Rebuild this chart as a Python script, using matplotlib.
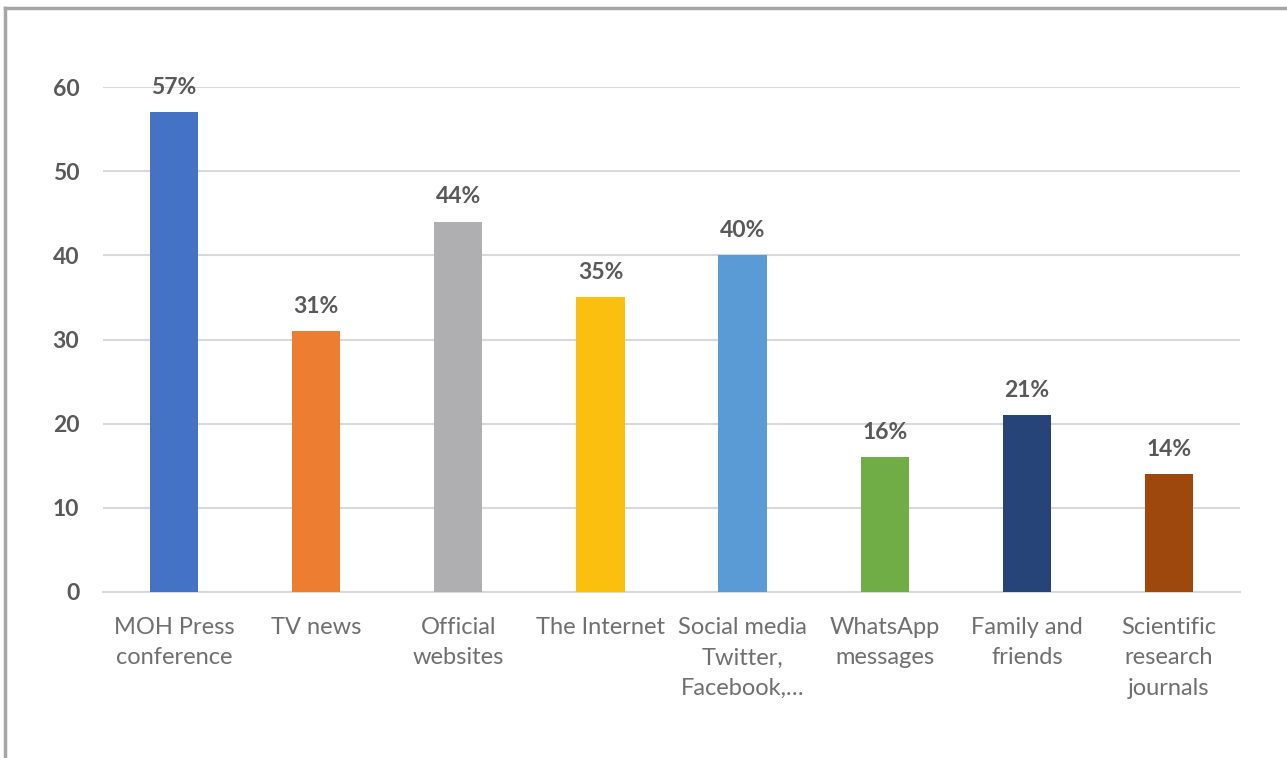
import matplotlib.pyplot as plt
from matplotlib.lines import Line2D

# data
categories = ["MOH Press\nconference", "TV news", "Official\nwebsites", "The Internet",
              "Social media\nTwitter,\nFacebook,…", "WhatsApp\nmessages", "Family and\nfriends",
              "Scientific\nresearch\njournals"]
values = [57, 31, 44, 35, 40, 16, 21, 14]
labels = ["57%", "31%", "44%", "35%", "40%", "16%", "21%", "14%"]
colors = ["#4472C4", "#ED7D31", "#AFAFB1", "#FBBF10", "#5B9BD5", "#70AD47", "#264478", "#9E480E"]
yticks = [0, 10, 20, 30, 40, 50, 60]

plt.rcParams['font.family'] = ['Lato', 'DejaVu Sans']

fig = plt.figure(figsize=(12.87, 7.58), dpi=100)
ax = fig.add_axes([103 / 1287, 1 - 592 / 758, (1240 - 103) / 1287, (592 - 87) / 758])

x = range(len(categories))
ax.bar(x, values, width=0.34, color=colors, zorder=3)
for i, (v, lab) in enumerate(zip(values, labels)):
    ax.text(i, v + 1.7, lab, ha='center', va='bottom', fontsize=16.5,
            fontweight='bold', color='#595959')

ax.set_xlim(-0.5, len(categories) - 0.5)
ax.set_ylim(0, 60)
ax.set_yticks(yticks)
ax.set_yticklabels([str(t) for t in yticks], fontsize=16.5, fontweight='bold', color='#595959')
ax.set_xticks(list(x))
ax.set_xticklabels(categories, fontsize=17, color='#6f6f6f', linespacing=1.55, va='top')
ax.tick_params(axis='both', length=0)
ax.tick_params(axis='y', pad=17)
ax.tick_params(axis='x', pad=18)
ax.grid(axis='y', color='#d9d9d9', linewidth=1.5, zorder=0)
for s in ['top', 'right', 'left']:
    ax.spines[s].set_visible(False)
ax.spines['bottom'].set_color('#d9d9d9')
ax.spines['bottom'].set_linewidth(1.5)

# outer chart frame (left and top edges visible)
fig.add_artist(Line2D([5 / 1287, 5 / 1287], [0, 1 - 8 / 758], color='#a6a6a6', linewidth=2.5,
                      transform=fig.transFigure))
fig.add_artist(Line2D([5 / 1287, 1], [1 - 8 / 758, 1 - 8 / 758], color='#a6a6a6', linewidth=2.5,
                      transform=fig.transFigure))

fig.savefig("out.png", dpi=100)
